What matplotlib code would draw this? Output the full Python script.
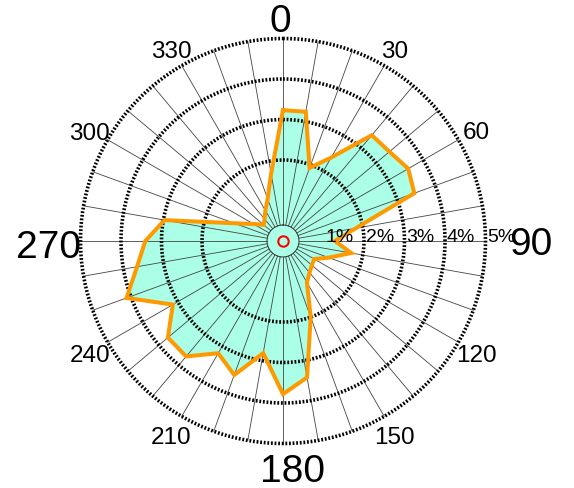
import numpy as np
import matplotlib.pyplot as plt

plt.rcParams['font.family'] = ['Liberation Sans', 'DejaVu Sans']

# direction bins (degrees, clockwise from north) and relative frequency (%)
directions = np.arange(0, 360, 10)
freq = [3.23, 3.24, 1.92, 2.38, 3.41, 3.43, 3.57, 3.45, 1.83, 1.28,
        1.71, 1.20, 0.89, 0.93, 1.02, 1.18, 2.00, 3.42, 3.78, 2.81,
        3.52, 3.20, 3.72, 3.71, 3.14, 4.11, 3.66, 3.40, 2.97, 1.28,
        0.84, 0.62, 0.71, 0.87, 1.11, 1.69]

ring_values = [2, 3, 4, 5]
pct_labels = ["1%", "2%", "3%", "4%", "5%"]
minor_angles = [30, 60, 120, 150, 210, 240, 300, 330]
major_angles = [0, 90, 180, 270]

FILL = "#aaffe6"
EDGE = "#ff9900"
PX = 40.5          # pixels per percent
RMAX = 5.6
R_HOLE = 0.395

fig = plt.figure(figsize=(5.74, 4.89), dpi=100)
W, H = 574, 489
cx, cy = 283, 489 - 242
rad_px = RMAX * PX
ax = fig.add_axes([(cx - rad_px) / W, (cy - rad_px) / H,
                   2 * rad_px / W, 2 * rad_px / H], projection="polar")
ax.set_theta_zero_location("N")
ax.set_theta_direction(-1)
ax.set_ylim(0, RMAX)
ax.axis("off")

th = np.deg2rad(np.append(directions, directions[0]))
rr = np.append(freq, freq[0])
ax.fill(th, rr, color=FILL, lw=0, zorder=1)

# spokes every 10 degrees, starting at the central hole
for d in directions:
    t = np.deg2rad(d)
    ax.plot([t, t], [R_HOLE, 5.0], color="#444444", lw=0.6, zorder=2)

circ = np.linspace(0, 2 * np.pi, 721)
ax.plot(circ, np.full_like(circ, R_HOLE), color="#333333", lw=0.7, zorder=2)

for rv in ring_values:
    ax.plot(circ, np.full_like(circ, rv), color="black", lw=2.6,
            linestyle=(0, (0.5, 0.5)), dash_capstyle="butt", zorder=3)

ax.plot(th, rr, color=EDGE, lw=2.9, solid_joinstyle="miter", zorder=4)
ax.plot([0], [0], "o", ms=7.5, mfc="none", mec="red", mew=1.5, zorder=5)


def at(dx, dy):
    """pixel offset from centre (up positive) -> (theta, r)"""
    return np.arctan2(dx, dy), np.hypot(dx, dy) / PX


for i, lab in enumerate(pct_labels):
    ax.text(np.deg2rad(90), i + 1 + 0.04, lab, fontsize=14,
            ha="left", va="baseline", zorder=6)

for a in minor_angles:
    t = np.deg2rad(a)
    x = 223 * np.sin(t)
    y = 223 * np.cos(t) - 9
    ax.text(*at(x, y), str(a), fontsize=17.5, ha="center", va="baseline")

major_pos = {0: (-3, 210), 90: (248, -13), 180: (9.5, -239.7),
             270: (-234.7, -16.3)}
for a in major_angles:
    ax.text(*at(*major_pos[a]), str(a), fontsize=28,
            ha="center", va="baseline")

fig.savefig("out.png", dpi=100)
